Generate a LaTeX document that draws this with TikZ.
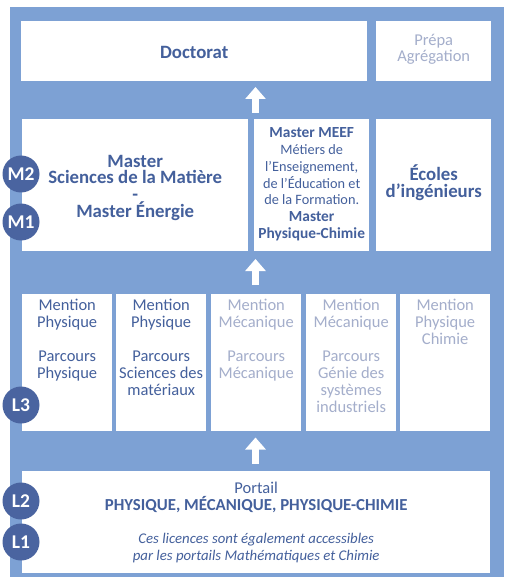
\documentclass[tikz,border=0pt]{standalone}
\usepackage{fontspec}
\setmainfont{Carlito}
\usetikzlibrary{arrows.meta}
\definecolor{bgblue}{HTML}{7DA1D4}
\definecolor{circblue}{HTML}{4A64A0}
\definecolor{txtblue}{HTML}{44609C}
\definecolor{paletxt}{HTML}{A4AECB}
\begin{document}
\begin{tikzpicture}[x=1pt,y=-1pt,
  box/.style={fill=white, inner sep=0pt, anchor=north west},
  big/.style={font=\bfseries\fontsize{18.8}{16.7}\selectfont, text=txtblue, align=center, inner sep=0pt, anchor=base},
  reg/.style={font=\fontsize{16.5}{17}\selectfont, align=center, inner sep=0pt, anchor=base},
  dk/.style={text=txtblue},
  pale/.style={text=paletxt},
  lvl/.style={circle, fill=circblue, minimum size=37pt, inner sep=0pt, text=white, font=\bfseries\fontsize{19.5}{19.5}\selectfont},
  uparrow/.style={draw=white, line width=7.5pt, -{Triangle[width=20pt,length=12pt]}}
]
\useasboundingbox (0,0) rectangle (504,577);
\fill[bgblue] (10,7.5) rectangle (504,577);

% top row
\node[box, minimum width=346pt, minimum height=60pt] (doc) at (21,21) {};
\node[big] (tdoc) at (doc.center |- 0,58.3) {Doctorat};
\node[box, minimum width=115pt, minimum height=60pt] (prepa) at (376,21) {};
\node[reg, font=\fontsize{16.5}{16.2}\selectfont, pale] (tprepa) at (prepa.center |- 0,61.7) {Prépa\\Agrégation};

% master row
\node[box, minimum width=226pt, minimum height=132pt] (mst) at (22,119) {};
\node[big] (tmst) at (mst.center |- 0,217.3) {Master\\Sciences de la Matière\\-\\Master Énergie};
\node[box, minimum width=115pt, minimum height=132pt] (meef) at (254,119) {};
\node[align=center, inner sep=0pt, text=txtblue, anchor=base, font=\fontsize{14.3}{16.8}\selectfont] (tmeef) at (meef.center |- 0,238.5) {{\bfseries\fontsize{15.4}{16.8}\selectfont Master MEEF}\\Métiers de\\l’Enseignement,\\de l’Éducation et\\de la Formation.\\{\bfseries\fontsize{15.4}{16.8}\selectfont Master}\\{\bfseries\fontsize{15.4}{16.8}\selectfont Physique-Chimie}};
\node[box, minimum width=115pt, minimum height=132pt] (eco) at (376,119) {};
\node[big] (teco) at (eco.center |- 0,197.3) {Écoles\\d’ingénieurs};

% L3 row
\node[box, minimum width=90pt, minimum height=137pt] (b1) at (22,294) {};
\node[box, minimum width=90pt, minimum height=137pt] (b2) at (116,294) {};
\node[box, minimum width=90pt, minimum height=137pt] (b3) at (211,294) {};
\node[box, minimum width=90pt, minimum height=137pt] (b4) at (306,294) {};
\node[box, minimum width=90pt, minimum height=137pt] (b5) at (400,294) {};
\node[reg, dk] (t1) at (b1.center |- 0,378.7) {Mention\\Physique\\[17pt]Parcours\\Physique};
\node[reg, dk] (t2) at (b2.center |- 0,395.7) {Mention\\Physique\\[17pt]Parcours\\Sciences des\\matériaux};
\node[reg, pale] (t3) at (b3.center |- 0,378.7) {Mention\\Mécanique\\[17pt]Parcours\\Mécanique};
\node[reg, pale] (t4) at (b4.center |- 0,412.2) {Mention\\Mécanique\\[17pt]Parcours\\Génie des\\systèmes\\industriels};
\node[reg, pale] (t5) at (b5.center |- 0,344.5) {Mention\\Physique\\Chimie};

% portail
\node[box, minimum width=468pt, minimum height=102pt] (port) at (22,471) {};
\node[reg, dk] (p1) at (port.center |- 0,493.3) {Portail};
\node[anchor=base, inner sep=0pt, text=txtblue, font=\bfseries\fontsize{16.8}{17}\selectfont] (p2) at (port.center |- 0,510) {PHYSIQUE, MÉCANIQUE, PHYSIQUE-CHIMIE};
\node[anchor=base, inner sep=0pt, text=txtblue, align=center, font=\itshape\fontsize{14.8}{16.7}\selectfont] (p3) at (port.center |- 0,560) {Ces licences sont également accessibles\\par les portails Mathématiques et Chimie};

% arrows
\coordinate (a1s) at (255.5,113);
\coordinate (a1e) at (255.5,87);
\coordinate (a2s) at (255.5,285);
\coordinate (a2e) at (255.5,259);
\coordinate (a3s) at (255.5,463.5);
\coordinate (a3e) at (255.5,437.5);
\draw[uparrow] (a1s) -- (a1e);
\draw[uparrow] (a2s) -- (a2e);
\draw[uparrow] (a3s) -- (a3e);

% level circles
\node[lvl] (m2) at (21,174) {M2};
\node[lvl] (m1) at (21,222) {M1};
\node[lvl] (l3) at (21,405) {L3};
\node[lvl] (l2) at (21,501) {L2};
\node[lvl] (l1) at (21,542) {L1};
\end{tikzpicture}
\end{document}
